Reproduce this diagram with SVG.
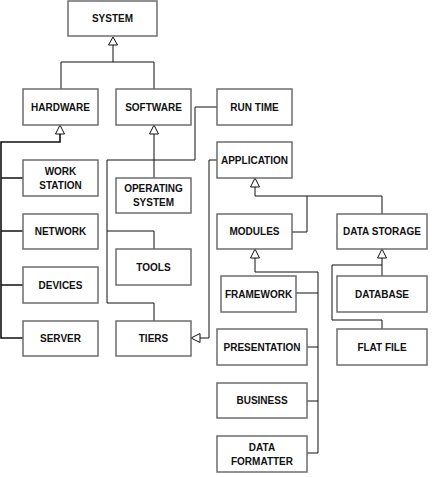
<svg xmlns="http://www.w3.org/2000/svg" width="433" height="477" viewBox="0 0 433 477">
<defs>
<style>
.box{fill:#fff;stroke:#6e6e6e;stroke-width:1.5}
.t{font-family:"Liberation Sans",Arial,sans-serif;font-weight:bold;font-size:10px;fill:#111;text-anchor:middle}
.c{fill:none;stroke:#111;stroke-width:1}
.hw{fill:none;stroke:#111;stroke-width:1.6}
.ah{fill:#fff;stroke:#111;stroke-width:1}
</style>
</defs>
<rect width="433" height="477" fill="#fff"/>
<g id="connectors">
<!-- system -->
<path class="c" d="M113 45V62M61 89V62H154V89"/>
<polygon class="ah" points="113,37 108.5,45 117.5,45"/>
<!-- hardware -->
<path class="hw" d="M60 134V142H1V338H23M1 178H23M1 231H23M1 285H23"/>
<polygon class="ah" points="60,125 55.5,134 64.5,134"/>
<!-- software -->
<path class="c" d="M154 134V178"/>
<polygon class="ah" points="154,125 149.5,134 158.5,134"/>
<!-- run time -->
<path class="c" d="M217 107H195V160H107V303H154V321M107 231H154V249"/>
<!-- tiers to application -->
<path class="c" d="M200 338H209V160H217"/>
<polygon class="ah" points="191,338 200,333.5 200,342.5"/>
<!-- application -->
<path class="c" d="M255 187V196H382V214M307 196V232H292"/>
<polygon class="ah" points="255,178 250.5,187 259.5,187"/>
<!-- modules -->
<path class="c" d="M255 258V272H318V453H307M296 293H318M307 347H318M307 401H318"/>
<polygon class="ah" points="255,249 250.5,258 259.5,258"/>
<!-- data storage -->
<path class="c" d="M382 258V276M382 265H332V320H382V329"/>
<polygon class="ah" points="382,249 377.5,258 386.5,258"/>
</g>
<g id="system"><rect class="box" x="68" y="1" width="89" height="35"/><text class="t" x="112.5" y="22">SYSTEM</text></g>
<g id="hardware"><rect class="box" x="23" y="89" width="75" height="36"/><text class="t" x="60.5" y="110.5">HARDWARE</text></g>
<g id="software"><rect class="box" x="116" y="89" width="75" height="36"/><text class="t" x="153.5" y="110.5">SOFTWARE</text></g>
<g id="runtime"><rect class="box" x="217" y="89" width="75" height="36"/><text class="t" x="254.5" y="110.5">RUN TIME</text></g>
<g id="application"><rect class="box" x="217" y="142" width="75" height="36"/><text class="t" x="254.5" y="163.5">APPLICATION</text></g>
<g id="workstation"><rect class="box" x="23" y="160" width="75" height="36"/><text class="t" x="60.5" y="174.5">WORK</text><text class="t" x="60.5" y="188.5">STATION</text></g>
<g id="network"><rect class="box" x="23" y="214" width="75" height="35"/><text class="t" x="60.5" y="235">NETWORK</text></g>
<g id="devices"><rect class="box" x="23" y="267" width="75" height="36"/><text class="t" x="60.5" y="288.5">DEVICES</text></g>
<g id="server"><rect class="box" x="23" y="321" width="75" height="35"/><text class="t" x="60.5" y="342">SERVER</text></g>
<g id="operatingsystem"><rect class="box" x="116" y="178" width="75" height="35"/><text class="t" x="153.5" y="192">OPERATING</text><text class="t" x="153.5" y="206">SYSTEM</text></g>
<g id="tools"><rect class="box" x="116" y="249" width="75" height="36"/><text class="t" x="153.5" y="270.5">TOOLS</text></g>
<g id="tiers"><rect class="box" x="116" y="321" width="75" height="35"/><text class="t" x="153.5" y="342">TIERS</text></g>
<g id="modules"><rect class="box" x="217" y="214" width="75" height="35"/><text class="t" x="254.5" y="235">MODULES</text></g>
<g id="datastorage"><rect class="box" x="337" y="214" width="90" height="35"/><text class="t" x="382" y="235">DATA STORAGE</text></g>
<g id="framework"><rect class="box" x="221" y="276" width="75" height="36"/><text class="t" x="258.5" y="297.5">FRAMEWORK</text></g>
<g id="presentation"><rect class="box" x="217" y="329" width="90" height="36"/><text class="t" x="262" y="350.5">PRESENTATION</text></g>
<g id="business"><rect class="box" x="217" y="383" width="90" height="35"/><text class="t" x="262" y="404">BUSINESS</text></g>
<g id="dataformatter"><rect class="box" x="217" y="436" width="90" height="36"/><text class="t" x="262" y="450.5">DATA</text><text class="t" x="262" y="464.5">FORMATTER</text></g>
<g id="database"><rect class="box" x="337" y="276" width="90" height="36"/><text class="t" x="382" y="297.5">DATABASE</text></g>
<g id="flatfile"><rect class="box" x="337" y="329" width="90" height="36"/><text class="t" x="382" y="350.5">FLAT FILE</text></g>
</svg>
